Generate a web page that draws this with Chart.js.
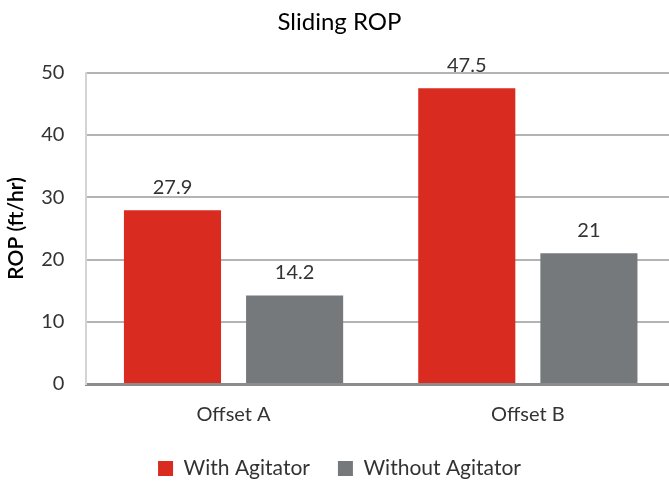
<!DOCTYPE html>
<html>
<head>
<meta charset="utf-8">
<script src="https://cdn.jsdelivr.net/npm/chart.js@4.4.0/dist/chart.umd.min.js"></script>
<style>
  html, body { margin: 0; padding: 0; background: #fff; overflow: hidden; }
  /* plot area runs a little past the right edge, like the original */
  #wrap { width: 675px; height: 481px; }
</style>
</head>
<body>
<div id="wrap"><canvas id="ropChart"></canvas></div>
<script>
// chart values
const categories = ["Offset A", "Offset B"];
const withAgitator = [27.9, 47.5];
const withoutAgitator = [14.2, 21];
const seriesNames = ["With Agitator", "Without Agitator"];

const fontName = "Lato, 'Open Sans', sans-serif";

// draw value labels above each bar
const barLabels = {
    id: 'barLabels',
    afterDatasetsDraw(chart){
        const ctx = chart.ctx;
        ctx.save();
        ctx.font = "20px " + fontName;
        ctx.fillStyle = '#333333';
        ctx.textAlign = 'center';
        ctx.textBaseline = 'bottom';
        chart.data.datasets.forEach((ds, i) => {
            chart.getDatasetMeta(i).data.forEach((bar, j) => {
                ctx.fillText(ds.data[j], bar.x, bar.y - 13);
            });
        });
        ctx.restore();
    }
};

new Chart(document.getElementById('ropChart'), {
    type: 'bar',
    data: {
        labels: categories,
        datasets: [{
            label: seriesNames[0],
            data: withAgitator,
            backgroundColor: '#d92b1f',
            categoryPercentage: 0.83,
            barPercentage: 0.795
        }, {
            label: seriesNames[1],
            data: withoutAgitator,
            backgroundColor: '#76797b',
            categoryPercentage: 0.83,
            barPercentage: 0.795
        }]
    },
    options: {
        responsive: true,
        maintainAspectRatio: false,
        animation: false,
        layout: { padding: { top: 8, right: 0, bottom: -8, left: 4 } },
        plugins: {
            title: {
                display: true,
                text: 'Sliding ROP',
                color: '#000',
                font: { family: fontName, size: 24, weight: 'normal' },
                padding: { top: 0, bottom: 36 }
            },
            legend: {
                position: 'bottom',
                labels: {
                    color: '#333',
                    font: { family: fontName, size: 21 },
                    boxWidth: 15,
                    boxHeight: 15,
                    padding: 28
                }
            },
            tooltip: { enabled: false }
        },
        scales: {
            x: {
                grid: { display: false },
                border: { display: true, color: '#8c8c8c', width: 3 },
                ticks: {
                    color: '#333',
                    font: { family: fontName, size: 20 },
                    padding: 11
                },
                // legend box is taller because of its wide item spacing
                afterFit(scale){ scale.height -= 8; }
            },
            y: {
                min: 0,
                max: 50,
                ticks: {
                    stepSize: 10,
                    color: '#333',
                    font: { family: fontName, size: 20 },
                    padding: 22
                },
                grid: { color: '#b3b3b3', lineWidth: 2, drawTicks: false },
                border: { display: true, color: '#d4d4d4', width: 2 },
                title: {
                    display: true,
                    text: 'ROP (ft/hr)',
                    color: '#000',
                    font: { family: fontName, size: 21, weight: '600' },
                    padding: { top: 0, bottom: -10 }
                }
            }
        }
    },
    plugins: [barLabels]
});
</script>
</body>
</html>
